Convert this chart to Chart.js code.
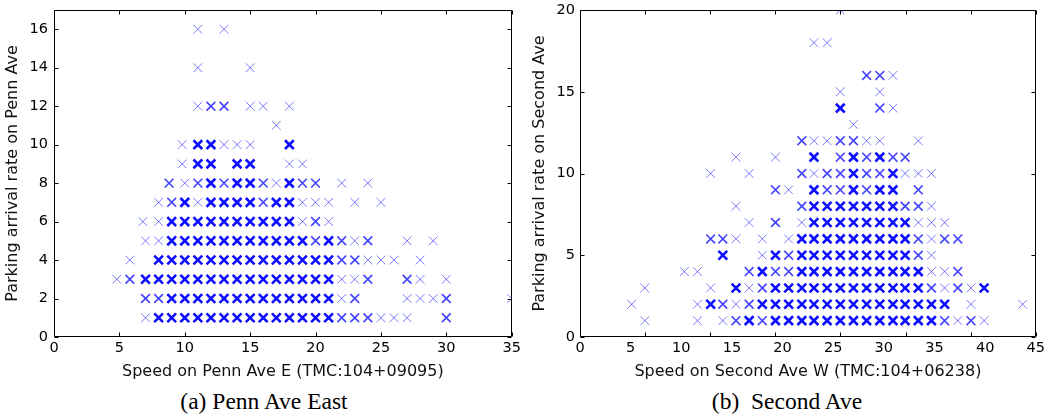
<!DOCTYPE html>
<html><head><meta charset="utf-8">
<script src="https://cdn.jsdelivr.net/npm/chart.js@4.4.1/dist/chart.umd.min.js"></script>
<style>
html,body{margin:0;padding:0;background:#fff;width:1048px;height:419px;overflow:hidden;}
#wrapA{position:absolute;left:0;top:0;width:535px;height:385px;}
#wrapB{position:absolute;left:528px;top:0;width:520px;height:385px;}
.cap{position:absolute;top:389px;font-family:"Liberation Serif","Times New Roman",serif;font-size:23.5px;line-height:24px;color:#000;white-space:pre;transform:translateX(-50%);}
</style></head><body>
<div id="wrapA"><canvas id="cA"></canvas></div>
<div id="wrapB"><canvas id="cB"></canvas></div>
<div class="cap" style="left:264px">(a) Penn Ave East</div>
<div class="cap" style="left:787px">(b)  Second Ave</div>
<script>
// ---------- Panel (a): Penn Ave East ----------
const pennRates = [1, 2, 3, 4, 5, 6, 7, 8, 9, 10, 11, 12, 14, 16];
const pennSpeeds = [
  [7,8,9,10,11,12,13,14,15,16,17,18,19,20,21,22,23,24,25,26,27,30],
  [7,8,9,10,11,12,13,14,15,16,17,18,19,20,21,22,23,27,28,29,30,35],
  [4.8,5.8,7,8,9,10,11,12,13,14,15,16,17,18,19,20,21,22,23,24,27,28,30],
  [5.8,8,9,10,11,12,13,14,15,16,17,18,19,20,21,22,23,24,25,26,28],
  [7,8,9,10,11,12,13,14,15,16,17,18,19,20,21,22,23,24,27,29],
  [6.8,8,9,10,11,12,13,14,15,16,17,18,19,20,21],
  [8,9,10,11,12,13,14,15,16,17,18,19,20,21,23,25],
  [8.8,10,11,12,13,14,15,16,17,18,19,20,22,24],
  [9.8,11,12,14,15,18,19],
  [9.8,11,12,13,14,15,18],
  [17],
  [11,12,13,15,16,18],
  [11,15],
  [11,13]
];
// approximate number of overlapping observations (1 = single, 2 = few, 3 = many)
const pennCounts = [
  [1,3,3,3,3,3,3,3,3,3,3,3,3,3,3,2,2,2,1,1,1,2],
  [2,2,3,3,3,3,3,3,3,3,3,3,3,3,3,1,2,1,1,1,2,1],
  [1,2,3,3,3,3,3,3,3,3,3,3,3,3,3,3,3,1,1,2,2,1,1],
  [1,3,3,3,3,3,3,3,3,3,3,3,3,3,3,2,2,1,1,1,1],
  [1,1,3,3,3,3,3,3,3,3,3,3,3,2,3,2,1,2,1,1],
  [1,1,3,3,3,3,3,3,3,3,3,3,1,2,1],
  [1,2,3,1,3,3,3,3,2,3,3,1,1,1,1,1],
  [2,1,2,3,2,3,3,2,1,3,2,2,1,1],
  [1,3,3,3,3,1,1],
  [1,3,3,1,1,1,3],
  [1],
  [1,2,2,1,1,1],
  [1,1],
  [1,1]
];
const pennXTicks = [0, 5, 10, 15, 20, 25, 30, 35];
const pennYTicks = [0, 2, 4, 6, 8, 10, 12, 14, 16];

// ---------- Panel (b): Second Ave ----------
const secondRates = [1, 2, 3, 4, 5, 6, 7, 8, 9, 10, 11, 12, 13, 14, 15, 16, 18, 20];
const secondSpeeds = [
  [6.4,11.6,14.1,15.4,16.7,18.0,19.3,20.6,21.9,23.1,24.4,25.7,27.0,28.3,29.6,30.9,32.1,33.4,34.7,36.0,37.3,38.6,39.9],
  [5.1,11.6,12.9,14.1,15.4,16.7,18.0,19.3,20.6,21.9,23.1,24.4,25.7,27.0,28.3,29.6,30.9,32.1,33.4,34.7,36.0,38.6,43.7],
  [6.4,12.9,15.4,16.7,18.0,19.3,20.6,21.9,23.1,24.4,25.7,27.0,28.3,29.6,30.9,32.1,33.4,34.7,36.0,37.3,38.6,39.9],
  [10.3,11.6,16.7,18.0,19.3,20.6,21.9,23.1,24.4,25.7,27.0,28.3,29.6,30.9,32.1,33.4,34.7,36.0,37.3],
  [14.1,18.0,19.3,20.6,21.9,23.1,24.4,25.7,27.0,28.3,29.6,30.9,32.1,33.4,34.7],
  [12.9,14.1,15.4,18.0,20.6,21.9,23.1,24.4,25.7,27.0,28.3,29.6,30.9,32.1,33.4,34.7,36.0,37.3],
  [16.7,19.3,21.9,23.1,24.4,25.7,27.0,28.3,29.6,30.9,32.1,33.4,34.7,36.0],
  [15.4,21.9,23.1,24.4,25.7,27.0,28.3,29.6,30.9,32.1,33.4,34.7],
  [19.3,20.6,23.1,24.4,25.7,27.0,28.3,29.6,30.9,33.4],
  [12.9,16.7,21.9,23.1,24.4,25.7,27.0,28.3,29.6,30.9,32.1,33.4,34.7],
  [15.4,19.3,23.1,25.7,27.0,28.3,29.6,30.9,32.1],
  [21.9,23.1,24.4,25.7,27.0,28.3,29.6,33.4],
  [27.0],
  [25.7,29.6,30.9],
  [25.7,29.6],
  [28.3,29.6,30.9],
  [23.1,24.4],
  [25.7]
];
const secondCounts = [
  [1,1,1,2,3,2,3,3,3,3,3,3,3,3,3,3,3,3,3,2,1,2,1],
  [1,1,3,2,1,2,3,3,3,3,3,3,3,3,3,3,3,3,3,3,3,1,1],
  [1,1,3,1,2,3,3,3,3,3,3,3,3,3,3,3,3,2,1,2,1,3],
  [1,1,2,3,2,2,3,3,3,3,3,3,3,3,3,3,1,1,2],
  [3,1,3,2,3,3,3,3,3,3,3,3,3,2,1],
  [2,2,1,1,1,3,3,3,3,3,3,3,3,3,2,1,2,2],
  [1,2,1,3,3,3,3,3,3,3,3,1,1,1],
  [1,2,3,3,3,3,3,3,3,2,2,1],
  [2,1,3,2,2,3,2,3,3,2],
  [1,1,2,1,2,2,3,2,2,3,1,1,1],
  [1,1,3,2,3,2,3,2,2],
  [2,1,1,2,2,1,1,1],
  [1],
  [3,2,1],
  [1,1],
  [2,2,1],
  [1,1],
  [1]
];
const secondXTicks = [0, 5, 10, 15, 20, 25, 30, 35, 40, 45];
const secondXTickMarks = [0, 6.43, 12.86, 19.29, 25.71, 32.14, 38.57, 45];
const secondYTicks = [0, 5, 10, 15, 20];

// ---------- helpers ----------
function buildPoints(rates, speeds, counts) {
  const pts = [];
  rates.forEach((r, i) => speeds[i].forEach((s, j) => pts.push({x: s, y: r, n: counts[i][j]})));
  return pts;
}
const alphaFor = n => n >= 3 ? 0.95 : (n === 2 ? 0.72 : 0.52);
const widthFor = n => n >= 3 ? 2.6 : (n === 2 ? 1.7 : 1);

const framePlugin = {
  id: 'frame',
  afterDatasetsDraw(chart, args, opts) {
    const {ctx, chartArea: a, scales} = chart;
    const L = 4;
    ctx.save();
    ctx.strokeStyle = '#000';
    ctx.lineWidth = 1;
    const l = Math.round(a.left) + 0.5, r = Math.round(a.right) - 0.5;
    const t = Math.round(a.top) + 0.5, b = Math.round(a.bottom) - 0.5;
    ctx.beginPath();
    ctx.rect(l, t, r - l, b - t);
    opts.xMarks.forEach(v => {
      const px = Math.round(scales.x.getPixelForValue(v)) + 0.5;
      ctx.moveTo(px, b); ctx.lineTo(px, b - L);
      ctx.moveTo(px, t); ctx.lineTo(px, t + L);
    });
    opts.yMarks.forEach(v => {
      const py = Math.round(scales.y.getPixelForValue(v)) + 0.5;
      ctx.moveTo(l, py); ctx.lineTo(l + L, py);
      ctx.moveTo(r, py); ctx.lineTo(r - L, py);
    });
    ctx.stroke();
    ctx.restore();
  }
};

const TICKFONT = {family: "'DejaVu Sans', sans-serif", size: 14.5};
const TITLEFONT = {family: "'DejaVu Sans', sans-serif", size: 16};

function makeChart(id, cfg) {
  return new Chart(document.getElementById(id), {
    type: 'scatter',
    data: {datasets: [{
      data: buildPoints(cfg.rates, cfg.speeds, cfg.counts),
      pointStyle: 'crossRot',
      pointRadius: 6.2,
      pointHoverRadius: 6.2,
      pointBorderColor: c => 'rgba(0,0,255,' + alphaFor(c.raw ? c.raw.n : 1) + ')',
      pointBackgroundColor: 'rgba(0,0,255,0)',
      pointBorderWidth: c => widthFor(c.raw ? c.raw.n : 1),
      clip: 0
    }]},
    options: {
      responsive: true,
      maintainAspectRatio: false,
      animation: false,
      events: [],
      layout: {padding: {left: 0, top: 10, right: cfg.padRight, bottom: 0}},
      plugins: {legend: {display: false}, tooltip: {enabled: false},
        frame: {xMarks: cfg.xMarks, yMarks: cfg.yTicks}},
      scales: {
        x: {
          type: 'linear', min: cfg.xTicks[0], max: cfg.xTicks[cfg.xTicks.length - 1],
          grid: {display: false, drawTicks: false}, border: {display: false},
          afterBuildTicks: s => { s.ticks = cfg.xTicks.map(v => ({value: v})); },
          afterFit: s => { s.height = 48; },
          ticks: {color: '#000', font: TICKFONT, padding: 3, maxRotation: 0, autoSkip: false},
          title: {display: true, text: cfg.xTitle, color: '#111', font: TITLEFONT, padding: {top: 0, bottom: 3.4}}
        },
        y: {
          type: 'linear', min: 0, max: cfg.yMax,
          grid: {display: false, drawTicks: true, tickLength: cfg.yLabelGap}, border: {display: false},
          afterBuildTicks: s => { s.ticks = cfg.yTicks.map(v => ({value: v})); },
          afterFit: s => { s.width = cfg.yWidth; },
          ticks: {color: '#000', font: TICKFONT, padding: 0, autoSkip: false},
          title: {display: true, text: cfg.yTitle, color: '#111', font: TITLEFONT, padding: {top: cfg.yTitlePad, bottom: 0}}
        }
      }
    },
    plugins: [framePlugin]
  });
}

makeChart('cA', {
  rates: pennRates, speeds: pennSpeeds, counts: pennCounts,
  xTicks: pennXTicks, xMarks: pennXTicks, yTicks: pennYTicks, yMax: 17,
  xTitle: 'Speed on Penn Ave E (TMC:104+09095)', yTitle: 'Parking arrival rate on Penn Ave',
  padRight: 23.3, yWidth: 54, yTitlePad: 3.4, yLabelGap: 6
});
makeChart('cB', {
  rates: secondRates, speeds: secondSpeeds, counts: secondCounts,
  xTicks: secondXTicks, xMarks: secondXTickMarks, yTicks: secondYTicks, yMax: 20,
  xTitle: 'Speed on Second Ave W (TMC:104+06238)', yTitle: 'Parking arrival rate on Second Ave',
  padRight: 11.3, yWidth: 52, yTitlePad: 2, yLabelGap: 5
});
</script>
</body></html>
